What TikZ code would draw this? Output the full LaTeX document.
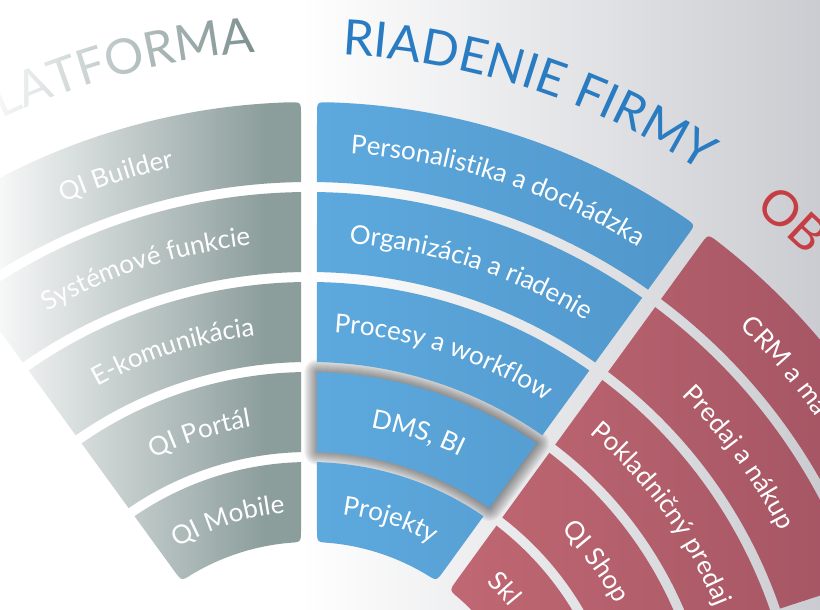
\documentclass[tikz,border=0pt]{standalone}
\usepackage{fontspec}
\setmainfont{Lato}
\usepackage{xcolor}
\usepackage{tikz}
\usetikzlibrary{decorations.text, fadings, positioning}

\definecolor{greycell}{RGB}{140,158,156}
\definecolor{bluel}{RGB}{93,169,221}
\definecolor{bluer}{RGB}{80,150,203}
\definecolor{redl}{RGB}{192,104,115}
\definecolor{redr}{RGB}{158,80,96}
\definecolor{greytitle}{RGB}{120,140,140}
\definecolor{bluetitle}{RGB}{42,124,194}
\definecolor{redtitle}{RGB}{196,62,68}
\definecolor{bgright}{RGB}{203,204,209}

\newcommand\cellfont{\fontsize{26}{26}\selectfont\color{white}}
\newcommand\titlefont{\fontsize{49}{49}\selectfont}

% one ring cell: #1 left angle, #2 right angle, #3 outer r, #4 inner r,
% #5 outer rounding, #6 inner rounding (gap of 8 on each side)
\newcommand\cellpath[6]{%
  ({(#1)-asin(8/((#4)+(#6)))}:{(#4)+(#6)})
  -- ({(#1)-asin(8/((#3)-(#5)))}:{(#3)-(#5)})
  .. controls ({(#1)-asin(8/(#3))}:{#3}) .. ({(#1)-asin(8/(#3))-deg((#5)/(#3))}:{#3})
  arc[start angle={(#1)-asin(8/(#3))-deg((#5)/(#3))}, end angle={(#2)+asin(8/(#3))+deg((#5)/(#3))}, radius={#3}]
  .. controls ({(#2)+asin(8/(#3))}:{#3}) .. ({(#2)+asin(8/((#3)-(#5)))}:{(#3)-(#5)})
  -- ({(#2)+asin(8/((#4)+(#6)))}:{(#4)+(#6)})
  .. controls ({(#2)+asin(8/(#4))}:{#4}) .. ({(#2)+asin(8/(#4))+deg((#6)/(#4))}:{#4})
  arc[start angle={(#2)+asin(8/(#4))+deg((#6)/(#4))}, end angle={(#1)-asin(8/(#4))-deg((#6)/(#4))}, radius={#4}]
  .. controls ({(#1)-asin(8/(#4))}:{#4}) .. ({(#1)-asin(8/((#4)+(#6)))}:{(#4)+(#6)})
  -- cycle}

% text along a ring: [align] left angle, right angle, radius, text
\newcommand\celltext[5][center]{%
  \path[decorate, decoration={text along path, text align=#1, text={|\cellfont|#5}}]
    ({#2}:{#4}) arc[start angle={#2}, end angle={#3}, radius={#4}];}

\begin{document}
\begin{tikzpicture}[x=1pt, y=1pt]
  \clip (0,0) rectangle (820,610);
  \fill[white] (0,0) rectangle (820,610);
  \shade[left color=white, right color=bgright] (300,0) rectangle (820,610);

  \begin{scope}[shift={(309,-160)}]
    % shadow of the raised cell
    \foreach \w in {2,4,...,26}
      \draw[black, opacity=0.035, line width=\w pt, line join=round] \cellpath{90}{54}{398}{318}{0}{0};

    % the three sectors
    \fill[greycell] foreach \k in {0,...,4} {\cellpath{126}{90}{668-90*\k}{588-90*\k}{(\k==0)*12}{(\k==4)*12}};
    \shade[left color=bluel, right color=bluer] foreach \k in {0,...,4} {\cellpath{90}{54}{668-90*\k}{588-90*\k}{(\k==0)*12}{(\k==4)*12}};
    \shade[left color=redl, right color=redr] foreach \k in {0,...,4} {\cellpath{54}{18}{668-90*\k}{588-90*\k}{(\k==0)*12}{(\k==4)*12}};

    % titles
    \path[decorate, decoration={text along path, text align=right, text={|\titlefont\color{greytitle}|LATFORMA}}]
      (130:720) arc[start angle=130, end angle=94.3, radius=720];
    \path[decorate, decoration={text along path, text align=center, text={|\titlefont\color{bluetitle}|RIADENIE FIRMY}}]
      (90:716) arc[start angle=90, end angle=54, radius=716];
    \path[decorate, decoration={text along path, text align=left, text={|\titlefont\color{redtitle}|OB}}]
      (51.5:716) arc[start angle=51.5, end angle=18, radius=716];

    % platforma
    \celltext{126}{90}{618}{QI Builder}
    \celltext{126}{90}{528}{Systémové funkcie}
    \celltext{126}{90}{438}{E-komunikácia}
    \celltext{126}{90}{348}{QI Portál}
    \celltext{126}{90}{258}{QI Mobile}
    % riadenie firmy
    \celltext{90}{54}{618}{Personalistika a dochádzka}
    \celltext{90}{54}{528}{Organizácia a riadenie}
    \celltext{90}{54}{438}{Procesy a workflow}
    \celltext{90}{54}{348}{DMS, BI}
    \celltext{90}{54}{258}{Projekty}
    % obchod
    \celltext[left]{45.8}{18}{618}{CRM a ma}
    \celltext{54}{18}{528}{Predaj a nákup}
    \celltext{54}{18}{438}{Pokladničný predaj}
    \celltext{54}{18}{348}{QI Shop}
    \celltext[left]{46.5}{18}{258}{Skl}
  \end{scope}

  % fade of the left sector
  \begin{scope}
    \clip (0,0) rectangle (306,610);
    \fill[white, path fading=east] (-20,0) rectangle (265,610);
  \end{scope}
\end{tikzpicture}
\end{document}
